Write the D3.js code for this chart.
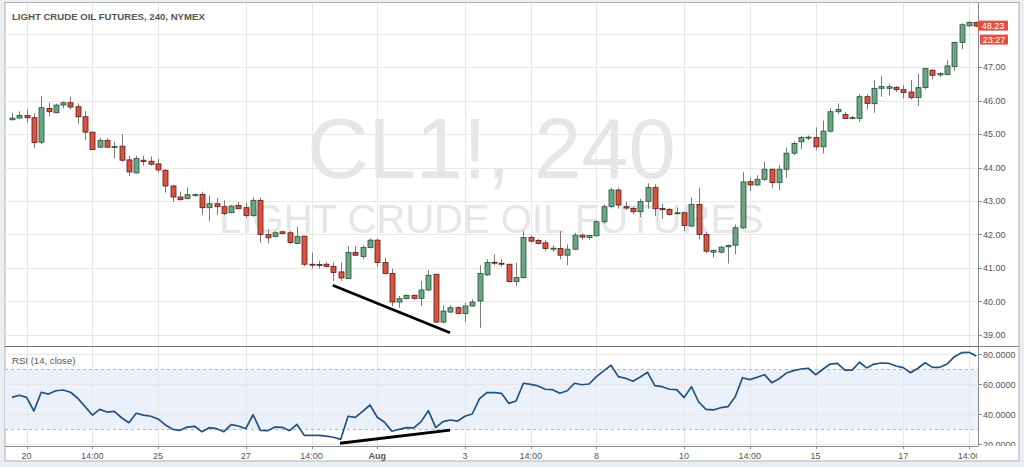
<!DOCTYPE html>
<html><head><meta charset="utf-8">
<script src="https://cdn.jsdelivr.net/npm/d3@7"></script>
<style>html,body{margin:0;padding:0;background:#eceff2;}svg{display:block;}</style>
</head><body>
<svg id="c" width="1024" height="467"></svg>
<script>
// ---------- DATA ----------
const title = "LIGHT CRUDE OIL FUTURES, 240, NYMEX";
const watermark1 = "CL1!, 240";
const watermark2 = "LIGHT CRUDE OIL FUTURES";
const rsiTitle = "RSI (14, close)";

const opens = [45.43,45.48,45.56,45.49,44.76,45.77,45.64,45.87,45.94,45.82,45.52,45.06,44.61,44.81,44.62,44.64,44.23,43.84,44.22,44.19,
44.11,43.92,43.45,43.12,43.07,43.17,43.20,42.80,42.92,42.83,42.65,42.87,42.80,42.57,43.02,42.00,41.94,42.08,42.05,41.73,
41.95,41.11,41.10,41.11,41.04,40.88,40.68,41.46,41.34,41.61,41.83,41.16,40.83,39.98,40.08,40.18,40.09,40.34,40.81,39.38,
39.68,39.81,39.64,39.86,40.01,40.79,41.17,41.14,41.11,40.59,40.71,41.91,41.82,41.75,41.58,41.58,41.38,41.56,41.98,41.91,
41.96,42.38,42.83,43.33,42.83,42.78,42.68,42.99,43.40,42.78,42.75,42.62,42.65,42.25,42.90,42.00,41.47,41.47,41.63,41.68,
42.20,43.58,43.48,43.65,43.95,43.55,43.95,44.43,44.77,44.89,44.90,44.62,45.09,45.67,45.59,45.48,45.47,46.12,45.91,46.37,
46.37,46.40,46.33,46.26,46.09,46.39,46.91,46.77,46.78,47.02,47.74,48.24,48.34];
const highs = [45.64,45.68,45.74,45.62,46.14,45.94,45.91,45.98,46.12,45.92,45.70,45.07,44.89,44.89,44.77,45.00,44.35,44.35,44.35,44.33,
44.26,43.95,43.49,43.28,43.41,43.23,43.28,43.17,43.09,43.02,42.88,42.97,42.95,43.10,43.10,42.15,42.10,42.11,42.10,42.23,
41.95,41.46,41.21,41.16,41.16,41.16,41.65,41.65,41.68,41.88,41.88,41.31,40.98,40.16,40.21,40.21,40.61,40.94,40.81,39.88,
39.88,39.86,39.96,40.06,41.08,41.26,41.40,41.26,41.11,41.16,42.10,41.97,41.87,41.83,41.68,42.10,41.70,42.05,42.03,41.99,
42.43,42.90,43.40,43.40,42.98,42.83,43.07,43.53,43.50,42.92,42.80,42.80,42.68,43.10,43.40,42.07,41.55,41.65,41.70,42.30,
43.87,43.70,43.77,44.18,43.97,44.07,44.60,44.78,44.95,44.96,45.20,45.41,45.77,45.92,45.67,45.55,46.19,46.19,46.62,46.74,
46.49,46.44,46.46,46.61,46.81,46.99,46.94,46.85,47.21,47.77,48.31,48.38,48.36];
const lows = [45.41,45.46,45.35,44.58,44.70,45.54,45.62,45.77,45.74,45.30,44.83,44.52,44.59,44.59,44.27,44.17,43.75,43.82,44.06,44.06,
43.85,43.25,42.98,43.02,43.05,43.14,42.59,42.39,42.59,42.57,42.63,42.75,42.50,42.52,41.76,41.73,41.91,42.00,41.71,41.71,
41.06,40.98,40.98,41.01,40.61,40.61,40.66,41.35,41.26,41.58,41.04,40.81,39.86,39.81,40.06,40.04,39.86,40.31,39.36,39.34,
39.66,39.61,39.38,39.84,39.21,40.76,41.08,41.04,40.56,40.46,40.69,41.76,41.70,41.50,41.48,41.26,41.08,41.54,41.85,41.84,
41.94,42.33,42.78,42.77,42.73,42.61,42.52,42.77,42.55,42.47,42.57,42.60,42.10,42.23,41.85,41.44,41.31,41.44,41.13,41.41,
42.17,43.30,43.45,43.60,43.40,43.33,43.70,44.37,44.55,44.82,44.53,44.42,45.04,45.61,45.46,45.44,45.37,45.74,45.64,46.12,
46.15,46.26,46.06,46.04,45.84,46.34,46.64,46.70,46.76,46.89,47.54,48.20,48.20];
const closes = [45.48,45.56,45.49,44.75,45.79,45.67,45.87,45.94,45.81,45.52,45.06,44.54,44.81,44.61,44.63,44.22,43.87,44.27,44.18,44.10,
43.93,43.45,43.12,43.04,43.19,43.19,42.80,42.92,42.83,42.63,42.85,42.77,42.57,43.02,42.00,41.90,42.05,42.03,41.76,41.94,
41.11,41.09,41.08,41.04,40.86,40.70,41.46,41.38,41.61,41.83,41.16,40.83,39.98,40.08,40.18,40.09,40.34,40.78,39.38,39.71,
39.81,39.64,39.86,39.98,40.83,41.16,41.14,41.11,40.59,40.71,41.91,41.80,41.73,41.58,41.59,41.38,41.56,41.98,41.92,41.97,
42.38,42.83,43.33,42.88,42.79,42.68,42.99,43.40,42.77,42.74,42.60,42.65,42.27,42.90,42.00,41.50,41.52,41.62,41.67,42.20,
43.57,43.48,43.65,43.95,43.55,43.95,44.43,44.72,44.90,44.91,44.62,45.09,45.67,45.74,45.47,45.50,46.12,45.92,46.37,46.42,
46.42,46.33,46.24,46.09,46.39,46.96,46.76,46.81,47.04,47.74,48.27,48.34,48.23];
const rsi = [51.3,52.7,51.3,42.2,54.7,53.5,55.7,56.2,54.7,50.7,45.1,39.5,43.3,41.5,42.0,37.7,34.4,40.7,39.5,38.7,
36.9,32.9,30.0,29.3,31.5,32.0,28.4,31.1,30.4,28.4,33.1,32.2,30.4,39.7,29.3,29.1,31.5,31.3,29.1,33.3,
26.0,26.0,26.0,25.5,24.7,23.3,38.7,38.0,42.0,46.2,38.0,34.7,28.7,30.0,31.1,30.9,35.1,42.4,31.1,35.1,
36.2,35.5,38.7,40.2,50.4,54.4,54.4,54.0,47.3,48.9,60.7,60.0,58.9,56.7,56.4,54.0,55.7,60.7,59.7,60.2,
65.1,68.9,72.7,65.1,64.0,62.0,64.9,68.0,59.1,58.4,56.7,56.4,51.1,58.4,48.2,43.3,42.9,44.4,45.1,51.7,
64.4,63.1,64.7,66.4,61.1,63.7,67.5,69.1,70.2,70.7,66.4,70.0,73.5,74.0,69.5,69.5,74.7,70.9,73.5,74.2,
74.0,72.2,71.1,67.7,70.7,74.4,71.3,71.3,73.5,78.4,81.1,81.3,78.9];

const timeTickBars   = [2, 11, 20, 32, 41, 50, 62, 71, 80, 92, 101, 110, 122, 131];
const timeTickLabels = ["20","14:00","25","27","14:00","Aug","3","14:00","8","10","14:00","15","17","14:00"];
const priceTicks = [39,40,41,42,43,44,45,46,47];
const priceGrid  = [39,40,41,42,43,44,45,46,47,48];
const rsiTicks = [20,40,60,80];
const rsiBand = [30,70];
const lastPrice = 48.23;
const lastTimeLabel = "23:27";
// divergence annotations (bar index, value)
const priceTrend = [[43.9,40.48],[59.96,39.06]];
const rsiTrend   = [[44.9,20.7],[59.96,29.5]];

// ---------- LAYOUT ----------
const svg = d3.select("#c");
const L = 5, R = 978, FR = 1019, T = 2.5, B = 461;
const mainTop = 3, mainBot = 346, rsiTop = 346, rsiBot = 446;

const x = d3.scaleLinear().domain([0,131]).range([12,969]);
const y = d3.scaleLinear().domain([39,48]).range([334.8,33.8]);
const yr = d3.scaleLinear().domain([20,80]).range([444.3,354.3]);

const n = closes.length;
const bars = d3.range(n).map(i => ({i, o:opens[i], h:highs[i], l:lows[i], c:closes[i]}));

// frame
svg.append("rect").attr("x",L).attr("y",T).attr("width",FR-L).attr("height",B-T)
  .attr("fill","#fff").attr("stroke","#aab2ba").attr("stroke-width",1);

const defs = svg.append("defs");
defs.append("clipPath").attr("id","cm").append("rect").attr("x",L).attr("y",mainTop).attr("width",R-L).attr("height",mainBot-mainTop);
defs.append("clipPath").attr("id","cr").append("rect").attr("x",L).attr("y",rsiTop).attr("width",R-L).attr("height",rsiBot-rsiTop);
defs.append("clipPath").attr("id","cx").append("rect").attr("x",L).attr("y",rsiBot).attr("width",R-L-1).attr("height",B-rsiBot);
defs.append("clipPath").attr("id","cra").append("rect").attr("x",R).attr("y",rsiTop).attr("width",FR-R).attr("height",rsiBot-rsiTop);

const font = "'Liberation Sans', Arial, sans-serif";
const gridCol = "#e8e8e8";

// ---- main pane ----
const gm = svg.append("g").attr("clip-path","url(#cm)");
// watermark
gm.append("text").attr("x",491.5).attr("y",178).attr("text-anchor","middle")
  .attr("font-family",font).attr("font-size",85).attr("fill","#e6e6e6").text(watermark1);
gm.append("text").attr("x",491.5).attr("y",233).attr("text-anchor","middle")
  .attr("font-family",font).attr("font-size",40).attr("fill","#e6e6e6").text(watermark2);
// grid
gm.selectAll(".hg").data(priceGrid).join("line")
  .attr("x1",L).attr("x2",R).attr("y1",d=>Math.round(y(d))+0.5).attr("y2",d=>Math.round(y(d))+0.5)
  .attr("stroke",gridCol).attr("stroke-width",1);
gm.selectAll(".vg").data(timeTickBars).join("line")
  .attr("x1",d=>Math.round(x(d))+0.5).attr("x2",d=>Math.round(x(d))+0.5).attr("y1",mainTop).attr("y2",mainBot)
  .attr("stroke",gridCol).attr("stroke-width",1);
// candles
const up = "#6ba583", upS = "#225437", dn = "#d75442", dnS = "#5b1a13";
const cg = gm.append("g");
cg.selectAll(".wick").data(bars).join("line")
  .attr("x1",d=>Math.round(x(d.i))+0.5).attr("x2",d=>Math.round(x(d.i))+0.5)
  .attr("y1",d=>y(d.h)).attr("y2",d=>y(d.l)).attr("stroke","#7a7a7c").attr("stroke-width",1);
cg.selectAll(".body").data(bars).join("rect")
  .attr("x",d=>Math.round(x(d.i))-2)
  .attr("width",5)
  .attr("y",d=>y(Math.max(d.o,d.c)))
  .attr("height",d=>Math.max(1,Math.abs(y(d.o)-y(d.c))))
  .attr("fill",d=>d.c>=d.o?up:dn)
  .attr("stroke",d=>d.c>=d.o?upS:dnS).attr("stroke-width",0.8);
// trend line
gm.append("line").attr("x1",x(priceTrend[0][0])).attr("y1",y(priceTrend[0][1]))
  .attr("x2",x(priceTrend[1][0])).attr("y2",y(priceTrend[1][1]))
  .attr("stroke","#000").attr("stroke-width",2.8);
// title
svg.append("text").attr("x",12).attr("y",20).attr("font-family",font).attr("font-weight","bold")
  .attr("font-size",9.6).attr("fill","#555").text(title);

// ---- RSI pane ----
const gr = svg.append("g").attr("clip-path","url(#cr)");
gr.append("rect").attr("x",L).attr("width",R-L).attr("y",yr(rsiBand[1])).attr("height",yr(rsiBand[0])-yr(rsiBand[1]))
  .attr("fill","#ebf1fb");
gr.selectAll(".rg").data(rsiTicks).join("line")
  .attr("x1",L).attr("x2",R).attr("y1",d=>Math.round(yr(d))+0.5).attr("y2",d=>Math.round(yr(d))+0.5)
  .attr("stroke",gridCol);
gr.selectAll(".rvg").data(timeTickBars).join("line")
  .attr("x1",d=>Math.round(x(d))+0.5).attr("x2",d=>Math.round(x(d))+0.5).attr("y1",rsiTop).attr("y2",rsiBot)
  .attr("stroke",gridCol);
gr.selectAll(".bd").data(rsiBand).join("line")
  .attr("x1",L).attr("x2",R).attr("y1",d=>Math.round(yr(d))+0.5).attr("y2",d=>Math.round(yr(d))+0.5)
  .attr("stroke","#b5b5b5").attr("stroke-dasharray","3,3");
gr.append("path").datum(rsi)
  .attr("d",d3.line().x((d,i)=>x(i)).y(d=>yr(d)))
  .attr("fill","none").attr("stroke","#24527f").attr("stroke-width",1.7).attr("stroke-linejoin","round");
gr.append("line").attr("x1",x(rsiTrend[0][0])).attr("y1",yr(rsiTrend[0][1]))
  .attr("x2",x(rsiTrend[1][0])).attr("y2",yr(rsiTrend[1][1]))
  .attr("stroke","#000").attr("stroke-width",2.8);
svg.append("text").attr("x",12).attr("y",364).attr("font-family",font).attr("font-size",9.6)
  .attr("fill","#555").text(rsiTitle);

// ---- separators / axes lines ----
svg.append("line").attr("x1",L).attr("x2",R).attr("y1",mainBot+0.5).attr("y2",mainBot+0.5).attr("stroke","#6f6f6f");
svg.append("line").attr("x1",L).attr("x2",R).attr("y1",rsiBot+0.5).attr("y2",rsiBot+0.5).attr("stroke","#8a8a8a");
svg.append("line").attr("x1",R+0.5).attr("x2",R+0.5).attr("y1",T).attr("y2",rsiBot+0.5).attr("stroke","#8a8a8a");
svg.append("line").attr("x1",R).attr("x2",FR).attr("y1",mainBot+0.5).attr("y2",mainBot+0.5).attr("stroke","#8a8a8a");

// price axis
const pa = svg.append("g");
pa.selectAll("line").data(priceTicks).join("line")
  .attr("x1",R).attr("x2",R+4).attr("y1",d=>Math.round(y(d))+0.5).attr("y2",d=>Math.round(y(d))+0.5).attr("stroke","#8a8a8a");
pa.selectAll("text").data(priceTicks).join("text")
  .attr("x",R+5).attr("y",d=>y(d)+3.2).attr("font-family",font).attr("font-size",9).attr("fill","#555")
  .text(d=>d.toFixed(2));
// rsi axis
const ra = svg.append("g").attr("clip-path","url(#cra)");
ra.selectAll("line").data(rsiTicks).join("line")
  .attr("x1",R).attr("x2",R+4).attr("y1",d=>Math.round(yr(d))+0.5).attr("y2",d=>Math.round(yr(d))+0.5).attr("stroke","#8a8a8a");
ra.selectAll("text").data(rsiTicks).join("text")
  .attr("x",R+5).attr("y",d=>yr(d)+3.2).attr("font-family",font).attr("font-size",9).attr("fill","#555")
  .text(d=>d.toFixed(4));
// time axis
const ta = svg.append("g").attr("clip-path","url(#cx)");
ta.selectAll("line").data(timeTickBars).join("line")
  .attr("x1",d=>Math.round(x(d))+0.5).attr("x2",d=>Math.round(x(d))+0.5).attr("y1",rsiBot).attr("y2",rsiBot+3).attr("stroke","#8a8a8a");
ta.selectAll("text").data(timeTickBars).join("text")
  .attr("x",d=>x(d)).attr("y",459).attr("text-anchor","middle").attr("font-family",font).attr("font-size",9)
  .attr("font-weight",(d,i)=>timeTickLabels[i]==="Aug"?"bold":"normal")
  .attr("fill","#555").text((d,i)=>timeTickLabels[i]);

// last price labels
const ly = y(lastPrice);
svg.append("rect").attr("x",R).attr("y",ly-5.5).attr("width",30).attr("height",10).attr("fill","#e0513e");
svg.append("text").attr("x",R+15).attr("y",ly+3.2).attr("text-anchor","middle").attr("font-family",font)
  .attr("font-size",9).attr("fill","#fff").text(lastPrice.toFixed(2));
svg.append("rect").attr("x",R+2).attr("y",ly+8.5).attr("width",28).attr("height",10).attr("fill","#e0513e");
svg.append("text").attr("x",R+16).attr("y",ly+17.2).attr("text-anchor","middle").attr("font-family",font)
  .attr("font-size",9).attr("fill","#fff").text(lastTimeLabel);
</script>
</body></html>
